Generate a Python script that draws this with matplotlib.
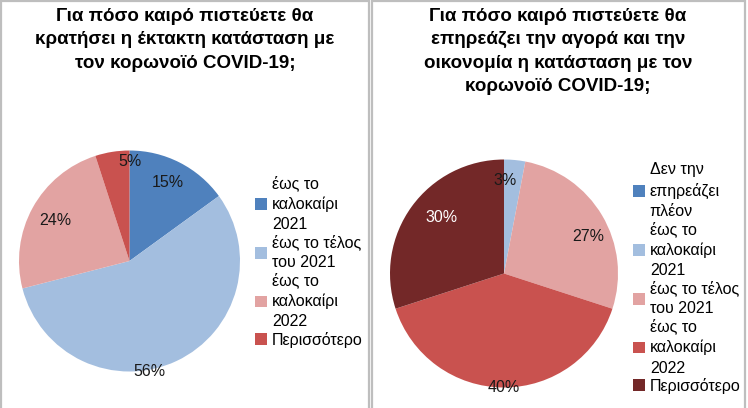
import numpy as np
import matplotlib.pyplot as plt
from matplotlib.patches import Rectangle
from matplotlib import font_manager

# data
left_title = "Για πόσο καιρό πιστεύετε θα\nκρατήσει η έκτακτη κατάσταση με\nτον κορωνοϊό COVID-19;"
left_labels = ["έως το\nκαλοκαίρι\n2021", "έως το τέλος\nτου 2021", "έως το\nκαλοκαίρι\n2022", "Περισσότερο"]
left_values = [15, 56, 24, 5]

right_title = "Για πόσο καιρό πιστεύετε θα\nεπηρεάζει την αγορά και την\nοικονομία η κατάσταση με τον\nκορωνοϊό COVID-19;"
right_labels = ["Δεν την\nεπηρεάζει\nπλέον", "έως το\nκαλοκαίρι\n2021", "έως το τέλος\nτου 2021",
                "έως το\nκαλοκαίρι\n2022", "Περισσότερο"]
right_values = [0, 3, 27, 40, 30]

left_colors = ["#4F81BD", "#A3BEDF", "#E2A3A2", "#C9524F"]
right_colors = ["#4F81BD", "#A3BEDF", "#E2A3A2", "#C9524F", "#732828"]

names = {f.name for f in font_manager.fontManager.ttflist}
fam = [f for f in ["Liberation Sans Narrow", "Liberation Sans", "DejaVu Sans"] if f in names]
plt.rcParams["font.family"] = fam

W, H = 748, 408
fig = plt.figure(figsize=(W / 100, H / 100), dpi=100)

# panel borders
for x0, x1 in [(1, 369), (372, 745)]:
    fig.patches.append(Rectangle((x0 / W, -0.05), (x1 - x0) / W, (H - 1) / H + 0.05,
                                 transform=fig.transFigure, fill=False,
                                 edgecolor="#BEBEBE", lw=1.6))


def draw_pie(cx, cy, r, values, colors, labels, label_pos, text_colors, legend_xy):
    ax = fig.add_axes([(cx - r) / W, (H - cy - r) / H, 2 * r / W, 2 * r / H])
    wedges, _ = ax.pie(values, colors=colors, startangle=90, counterclock=False,
                       radius=1, wedgeprops=dict(linewidth=0))
    ax.set_xlim(-1, 1)
    ax.set_ylim(-1, 1)
    ax.axis("off")
    for w, v, (dang, dist), tc in zip(wedges, values, label_pos, text_colors):
        if v == 0:
            continue
        ang = np.deg2rad((w.theta1 + w.theta2) / 2 + dang)
        ax.text(dist * np.cos(ang), dist * np.sin(ang), f"{v}%", ha="center", va="center",
                fontsize=11.5, color=tc, clip_on=False)
    leg = fig.legend(wedges, labels, loc="upper left", bbox_to_anchor=legend_xy, frameon=False,
                     fontsize=11.5, borderpad=0, handletextpad=0.3, handlelength=0.75,
                     handleheight=0.75, labelspacing=0.13, borderaxespad=0)
    for t in leg.get_texts():
        t.set_linespacing(1.44)


draw_pie(129.5, 261, 110.5, left_values, left_colors, left_labels,
         [(1, 0.79), (-15, 1.02), (0, 0.77), (-9, 0.9)],
         ["#1a1a1a"] * 4, (255 / W, 1 - 175 / H))
draw_pie(504, 273.5, 114, right_values, right_colors, right_labels,
         [(0, 0.8), (5, 0.82), (-7, 0.81), (0, 1.0), (-6, 0.74)],
         ["#1a1a1a"] * 4 + ["white"], (633 / W, 1 - 162 / H))

fig.text(185 / W, 1 - 40 / H, left_title, ha="center", va="center", fontsize=13.5,
         fontweight="bold", linespacing=1.5)
fig.text(558 / W, 1 - 51.5 / H, right_title, ha="center", va="center", fontsize=13.5,
         fontweight="bold", linespacing=1.5)

fig.savefig("out.png", dpi=100)
